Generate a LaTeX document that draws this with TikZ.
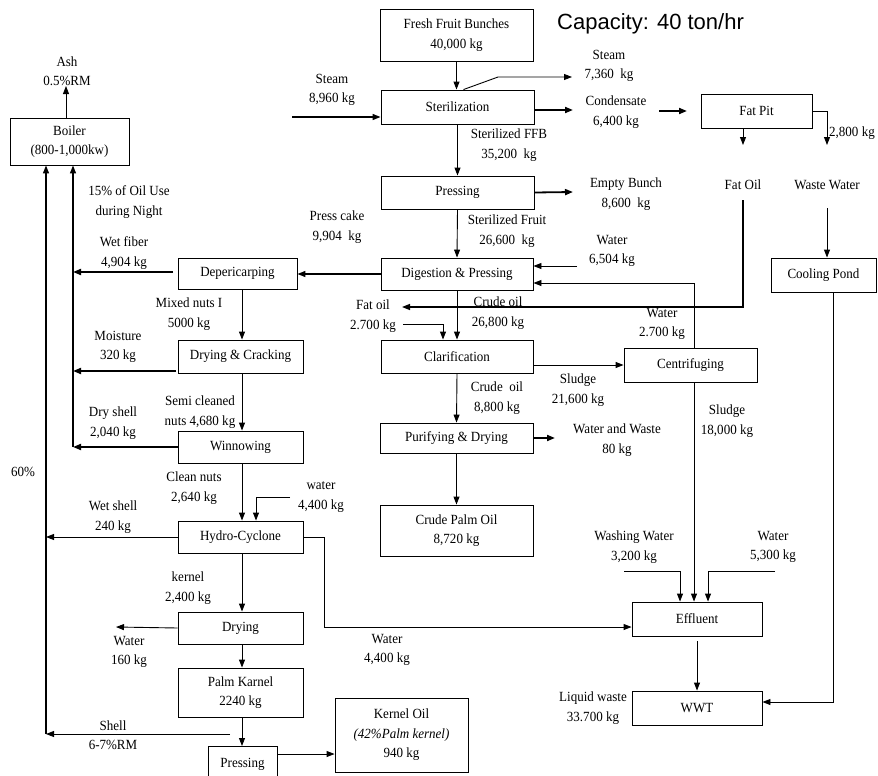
\documentclass[tikz,border=0pt]{standalone}
\usepackage{fontspec}
\setmainfont[FakeStretch=0.93]{Liberation Serif}
\newfontfamily\capfont{Liberation Sans}
\usetikzlibrary{arrows.meta}
\newcommand{\flowfont}{\fontsize{14}{19.5}\selectfont}
\begin{document}
\begin{tikzpicture}[x=1pt,y=-1pt,
  box/.style={draw, line width=0.9pt, align=center, inner sep=0pt, font=\flowfont},
  lab/.style={align=center, inner sep=0pt, font=\flowfont},
  arr/.style={line width=0.9pt, -{Triangle[length=8pt,width=6pt]}},
  thk/.style={line width=1.8pt},
  ln/.style={line width=0.9pt}]
\useasboundingbox (0,0) rectangle (878,776);

% ---- boxes ----
\node[box, minimum width=153pt, minimum height=52pt] (ffb) at (456.5,35) {Fresh Fruit Bunches\\40,000 kg};
\node[box, minimum width=153pt, minimum height=34pt] (ster) at (457.5,107) {Sterilization};
\node[box, minimum width=153pt, minimum height=33pt] (press) at (457.5,192.5) {Pressing};
\node[box, minimum width=152pt, minimum height=32pt] (dig) at (457,274) {Digestion \& Pressing};
\node[box, minimum width=152pt, minimum height=33pt] (clar) at (457,356.5) {Clarification};
\node[box, minimum width=153pt, minimum height=30pt] (pur) at (456.5,438) {Purifying \& Drying};
\node[box, minimum width=153pt, minimum height=51pt] (cpo) at (456.5,530.5) {Crude Palm Oil\\8,720 kg};
\node[box, minimum width=133pt, minimum height=34pt] (cent) at (690.5,365) {Centrifuging};
\node[box, minimum width=111pt, minimum height=34pt] (fatpit) at (756.5,111) {Fat Pit};
\node[box, minimum width=105pt, minimum height=34pt] (cool) at (823.5,275) {Cooling Pond};
\node[box, minimum width=130pt, minimum height=34pt] (eff) at (697,619) {Effluent};
\node[box, minimum width=130pt, minimum height=34pt] (wwt) at (697,708) {WWT};
\node[box, minimum width=119pt, minimum height=47pt] (boiler) at (69.5,141.5) {Boiler\\(800-1,000kw)};
\node[box, minimum width=119pt, minimum height=31pt] (dep) at (237.5,273.5) {Depericarping};
\node[box, minimum width=125pt, minimum height=33pt] (dc) at (240.5,356.5) {Drying \& Cracking};
\node[box, minimum width=125pt, minimum height=32pt] (win) at (240.5,447) {Winnowing};
\node[box, minimum width=125pt, minimum height=32pt] (hc) at (240.5,537) {Hydro-Cyclone};
\node[box, minimum width=125pt, minimum height=32pt] (dry) at (240.5,628) {Drying};
\node[box, minimum width=125pt, minimum height=49pt] (pk) at (240.5,692.5) {Palm Karnel\\2240 kg};
\node[box, anchor=north, minimum width=69pt, text height=21pt, text depth=30pt] (kpress) at (242.5,746) {Pressing};
\node[box, minimum width=133pt, minimum height=74pt] (koil) at (401.5,735) {Kernel Oil\\\textit{(42\%Palm kernel)}\\940 kg};

% ---- title ----
\node[anchor=base west, inner sep=0pt, font=\capfont\fontsize{22}{24}\selectfont] (cap) at (557,30) {Capacity: 40 ton/hr};

% ---- labels ----
\node[lab] (lsteamout) at (609,66) {Steam\\7,360~~kg};
\node[lab] (lsteamin) at (332,90) {Steam\\8,960 kg};
\node[lab] (lcond) at (616,112) {Condensate\\6,400 kg};
\node[lab] (lfatoil) at (743,185) {Fat Oil};
\node[lab] (lwaste) at (827,185) {Waste Water};
\node[lab, anchor=west] (l2800) at (829,133) {2,800 kg};
\node[lab] (lsffb) at (509,145) {Sterilized FFB\\35,200~~kg};
\node[lab] (lempty) at (626,194) {Empty Bunch\\8,600~~kg};
\node[lab] (lsfruit) at (507,231) {Sterilized Fruit\\26,600~~kg};
\node[lab] (lwater1) at (612,251) {Water\\6,504 kg};
\node[lab] (lcake) at (337,227) {Press cake\\9,904~~kg};
\node[lab] (lfat2) at (373,316) {Fat oil\\2.700 kg};
\node[lab] (lcrude1) at (498,313) {Crude oil\\26,800 kg};
\node[lab] (lwater2) at (662,324) {Water\\2.700 kg};
\node[lab] (lsludge1) at (578,390) {Sludge\\21,600 kg};
\node[lab] (lcrude2) at (497,398) {Crude~~oil\\8,800 kg};
\node[lab] (lww) at (617,440) {Water and Waste\\80 kg};
\node[lab] (lsludge2) at (727,421) {Sludge\\18,000 kg};
\node[lab] (lwash) at (634,547) {Washing Water\\3,200 kg};
\node[lab] (lwater3) at (773,547) {Water\\5,300 kg};
\node[lab] (lliquid) at (593,708) {Liquid waste\\33.700 kg};
\node[lab] (lwater4) at (387,650) {Water\\4,400 kg};
\node[lab] (lash) at (67,71) {Ash\\0.5\%RM};
\node[lab] (loil) at (129,202) {15\% of Oil Use\\during Night};
\node[lab] (lfiber) at (124,253) {Wet fiber\\4,904 kg};
\node[lab] (lmix) at (189,314) {Mixed nuts I\\5000 kg};
\node[lab] (lmoist) at (118,347) {Moisture\\320 kg};
\node[lab] (lsemi) at (200,412) {Semi cleaned\\nuts 4,680 kg};
\node[lab] (ldry) at (113,423) {Dry shell\\2,040 kg};
\node[lab] (l60) at (23,472) {60\%};
\node[lab] (lclean) at (194,488) {Clean nuts\\2,640 kg};
\node[lab] (lwater5) at (321,497) {water\\4,400 kg};
\node[lab] (lwet) at (113,517) {Wet shell\\240 kg};
\node[lab] (lkernel) at (188,588) {kernel\\2,400 kg};
\node[lab] (lwater6) at (129,652) {Water\\160 kg};
\node[lab] (lshell) at (113,735) {Shell\\6-7\%RM};

% ---- free-end coordinates ----
\coordinate (steamout) at (572,77);
\coordinate (steamin) at (292,117);
\coordinate (condout) at (573,110);
\coordinate (fpa) at (659,111);
\coordinate (fpb) at (687,111);
\coordinate (fatoilA) at (743,145);
\coordinate (wasteA) at (827,145);
\coordinate (wasteB) at (827,208);
\coordinate (fatoilB) at (743,200);
\coordinate (fatoilC) at (402,307);
\coordinate (fatinA) at (403,324);
\coordinate (waterinA) at (577,266);
\coordinate (emptyout) at (573,192);
\coordinate (wwout) at (555,438);
\coordinate (washA) at (624,571);
\coordinate (w53A) at (775,571);
\coordinate (hcw) at (290,497);
\coordinate (water160) at (116,627);
\coordinate (ashtip) at (66,86);
\coordinate (shellA) at (230,734);

% ---- main line ----
\draw[arr] (ffb.south) -- (ffb.south |- ster.north);
\draw[arr] ([xshift=6pt]ster.north) -- (498,77) -- (steamout);
\draw[arr, line width=1.3pt] (steamin) -- (ster.west |- steamin);
\draw[arr, thk] (ster.east |- condout) -- (condout);
\draw[arr, thk] (fpa) -- (fpb);
\draw[arr] (ster.south) -- (press.north);
\draw[arr, thk] (press.east) -- (emptyout);
\draw[arr] (press.south) -- (dig.north);
\draw[arr] (waterinA) -- (dig.east |- waterinA);
\draw[arr] (dig.south) -- (clar.north);
\draw[arr] (clar.south) -- (pur.north);
\draw[arr, thk] (pur.east) -- (wwout);
\draw[arr] (pur.south) -- (cpo.north);

% ---- fat pit ----
\draw[arr] (fatoilA |- fatpit.south) -- (fatoilA);
\draw[arr] (fatpit.east) -- (827,111) -- (wasteA);
\draw[arr] (wasteB) -- (wasteB |- cool.north);
\draw[arr] (833,0 |- cool.south) -- (833,702) -- (wwt.east |- 0,702);
\draw[arr, line width=1.4pt] (fatoilB) -- (743,307) -- (fatoilC);
\draw[arr] (fatinA) -- (443,324) -- (443,0 |- clar.north);

% ---- centrifuge / effluent ----
\draw[arr] (694,0 |- cent.north) -- (694,283) -- (dig.east |- 0,283);
\draw[arr] (clar.east |- cent.west) -- (cent.west);
\draw[arr] (694,0 |- cent.south) -- (694,0 |- eff.north);
\draw[arr] (washA) -- (680,571) -- (680,0 |- eff.north);
\draw[arr] (w53A) -- (708,571) -- (708,0 |- eff.north);
\draw[arr] ([yshift=-5pt]eff.south) -- (wwt.north);
\draw[arr] (hc.east) -- (324,537) -- (324,627) -- (eff.west |- 0,627);

% ---- nut line ----
\draw[arr, line width=1.3pt] (dig.west) -- (dep.east |- dig.west);
\draw[arr] (242,0 |- dep.south) -- (242,0 |- dc.north);
\draw[arr] (242,0 |- dc.south) -- (242,0 |- win.north);
\draw[arr] (242,0 |- win.south) -- (242,0 |- hc.north);
\draw[arr] (hcw) -- (256,497) -- (256,0 |- hc.north);
\draw[arr] (242,0 |- hc.south) -- (242,0 |- dry.north);
\draw[arr] (dry.west) -- (water160);
\draw[arr] (242,0 |- dry.south) -- (242,0 |- pk.north);
\draw[arr] (242,0 |- pk.south) -- (242,0 |- kpress.north);
\draw[arr] (kpress.east |- 0,754) -- (koil.west |- 0,754);

% ---- boiler returns ----
\draw[arr] (boiler.north -| ashtip) -- (ashtip);
\draw[arr, line width=1.3pt] (46,734) -- (46,0 |- boiler.south);
\draw[arr, line width=1.3pt] (73,447) -- (73,0 |- boiler.south);
\draw[arr] (shellA) -- (46,734);
\draw[arr] (hc.west) -- (46,537);
\draw[arr, thk] (173,272) -- (73,272);
\draw[arr, thk] (176,371) -- (73,371);
\draw[arr, thk] (win.west) -- (73,447);
\end{tikzpicture}
\end{document}
